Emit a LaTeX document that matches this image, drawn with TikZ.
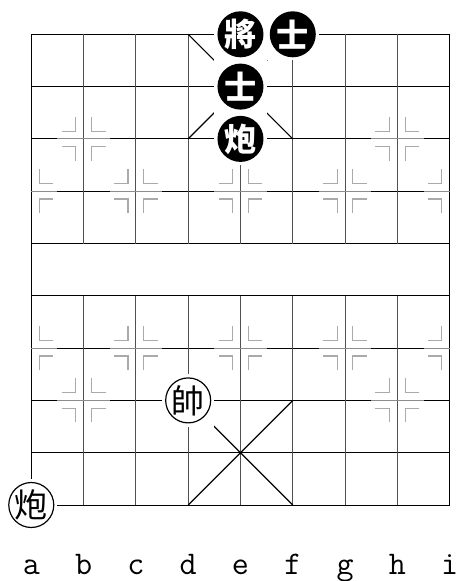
\documentclass[tikz,border=0pt]{standalone}
\usepackage{fontspec}
\newfontfamily\cjk{Noto Sans CJK TC}
\newfontfamily\monofont{Latin Modern Mono}
\definecolor{gridv}{HTML}{505050}
\definecolor{markc}{HTML}{AAAAAA}
\definecolor{lineg}{HTML}{8C8C8C}
\begin{document}
\begin{tikzpicture}[x=1cm,y=1cm,
  gridline/.style={line width=0.55pt,black},
  vline/.style={line width=0.55pt,gridv},
  palace/.style={line width=0.65pt,black},
  markline/.style={line width=0.6pt,markc},
  markgray/.style={line width=0.6pt,lineg},
  blackpiece/.style={circle,fill=black,text=white,minimum size=0.88cm,inner sep=0pt,
     font=\cjk\bfseries\fontsize{17.5}{18}\selectfont},
  redpiece/.style={circle,draw=black,line width=0.65pt,fill=white,text=black,minimum size=0.86cm,inner sep=0pt,
     font=\cjk\fontsize{18}{18}\selectfont},
  filelabel/.style={anchor=base,inner sep=0pt,font=\monofont\fontsize{18}{20}\selectfont}]
\useasboundingbox (-0.598,-1.453) rectangle (8.159,9.656);
% horizontal grid lines
\foreach \y in {0,...,9} \draw[gridline] (0,\y) -- (8,\y);
% interior vertical lines
\foreach \x in {1,...,7} {
  \draw[vline] (\x,0) -- (\x,4);
  \draw[vline] (\x,5) -- (\x,9);
}
% border verticals
\draw[gridline] (0,0) -- (0,9);
\draw[gridline] (8,0) -- (8,9);
% palaces
\draw[palace] (3,0) -- (5,2);
\draw[palace] (5,0) -- (3,2);
\draw[palace] (3,9) -- (5,7);
\draw[palace] (5,9) -- (3,7);
% position marks
\foreach \px/\py in {1/7,7/7,1/2,7/2,0/6,2/6,4/6,6/6,8/6,0/3,2/3,4/3,6/3,8/3} {
  \pgfmathsetmacro{\xl}{max(\px-0.5,0)}
  \pgfmathsetmacro{\xr}{min(\px+0.5,8)}
  \draw[markgray] (\xl,\py) -- (\xr,\py);
  \foreach \sx in {-1,1} {
    \pgfmathtruncatemacro{\ok}{(\px+\sx*0.5>=0)&&(\px+\sx*0.5<=8)}
    \ifnum\ok=1
      \foreach \sy in {-1,1} {
        \draw[markline] (\px+\sx*0.15,\py+\sy*0.42) -- (\px+\sx*0.15,\py+\sy*0.15) -- (\px+\sx*0.42,\py+\sy*0.15);
      }
    \fi
  }
}
% white backgrounds of pieces
\foreach \px/\py in {4/9,5/9,4/8,4/7,3/2,0/0}
  \fill[white] (\px-0.5,\py-0.5) rectangle (\px+0.5,\py+0.5);
% pieces
\node[blackpiece] (bk) at (4,9) {將};
\node[blackpiece] (ba1) at (5,9) {士};
\node[blackpiece] (ba2) at (4,8) {士};
\node[blackpiece] (bc) at (4,7) {炮};
\node[redpiece] (rk) at (3,2) {帥};
\node[redpiece] (rc) at (0,0) {炮};
% file labels
\foreach \lab [count=\i from 0] in {a,b,c,d,e,f,g,h,i}
  \node[filelabel] (lab\lab) at (\i,-1.338) {\lab};
\end{tikzpicture}
\end{document}
